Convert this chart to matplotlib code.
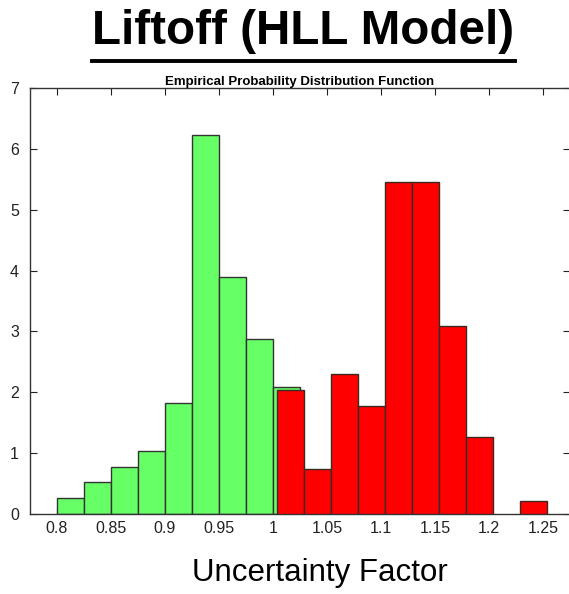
import numpy as np
import matplotlib.pyplot as plt
from matplotlib.lines import Line2D

plt.rcParams['font.family'] = ['Liberation Sans', 'DejaVu Sans']

# histogram bins (density) for the two groups
bin_w = 0.025
green_left = [0.800, 0.825, 0.850, 0.875, 0.900, 0.925, 0.950, 0.975, 1.000]
green_h = [0.26, 0.52, 0.78, 1.04, 1.82, 6.22, 3.90, 2.87, 2.08]
red_left = [1.004, 1.029, 1.054, 1.079, 1.104, 1.129, 1.154, 1.179, 1.204, 1.229]
red_h = [2.04, 0.74, 2.30, 1.78, 5.45, 5.45, 3.09, 1.26, 0.0, 0.21]

xticks = [0.8, 0.85, 0.9, 0.95, 1.0, 1.05, 1.1, 1.15, 1.2, 1.25]
xtick_labels = ['0.8', '0.85', '0.9', '0.95', '1', '1.05', '1.1', '1.15', '1.2', '1.25']
yticks = [0, 1, 2, 3, 4, 5, 6, 7]

W, H = 569, 594
fig = plt.figure(figsize=(W / 100, H / 100), dpi=100)
ax = fig.add_axes([30 / W, (H - 514) / H, 540 / W, 426 / H])

ax.bar(green_left, green_h, width=bin_w, align='edge', color='#66ff66',
       edgecolor='#333333', linewidth=1.0, zorder=2)
red_mask = np.array(red_h) > 0
ax.bar(np.array(red_left)[red_mask], np.array(red_h)[red_mask], width=bin_w,
       align='edge', color='#ff0000', edgecolor='#3a2a22', linewidth=1.0, zorder=3)

ax.set_xlim(0.775, 1.275)
ax.set_ylim(0, 7)
ax.set_xticks(xticks)
ax.set_xticklabels(xtick_labels)
ax.set_yticks(yticks)
ax.tick_params(direction='in', length=5, width=0.8, color='#222222',
               labelsize=11.5, labelcolor='#222222', top=True, right=True)
ax.tick_params(axis='x', pad=5)
ax.tick_params(axis='y', pad=8)
ax.spines['right'].set_visible(False)
for s in ['left', 'bottom', 'top']:
    ax.spines[s].set_linewidth(1.0)
    ax.spines[s].set_color('#333333')

ax.set_title('Empirical Probability Distribution Function', fontsize=9.5,
             fontweight='bold', pad=2)

# main title with an underline
t = fig.text(303.5 / W, 1 - 31 / H, 'Liftoff (HLL Model)', fontsize=34.3,
             fontweight='bold', ha='center', va='center')
fig.canvas.draw()
bb = t.get_window_extent().transformed(fig.transFigure.inverted())
fig.add_artist(Line2D([bb.x0, bb.x1], [1 - 61 / H, 1 - 61 / H],
                      transform=fig.transFigure, color='black', linewidth=2.8))

fig.text(320 / W, 1 - 573 / H, 'Uncertainty Factor', fontsize=22.5,
         ha='center', va='center')

fig.savefig('out.png', dpi=100)
